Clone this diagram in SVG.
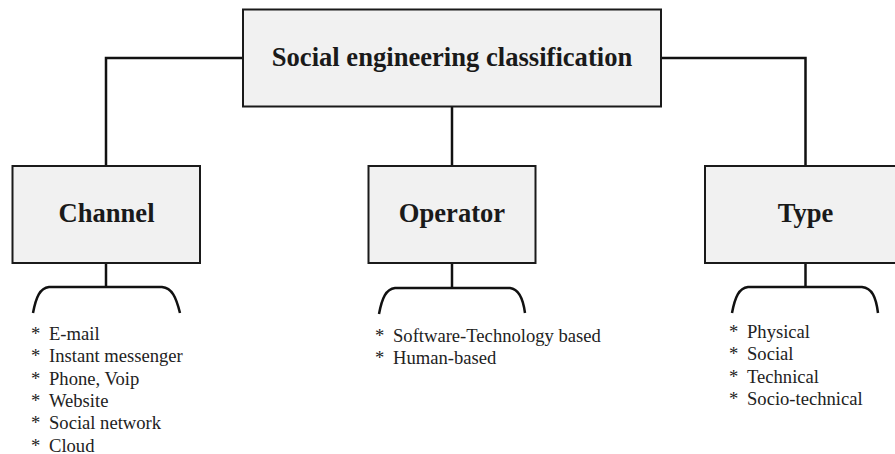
<svg xmlns="http://www.w3.org/2000/svg" width="895" height="454" viewBox="0 0 895 454">
<style>
.box{fill:#f1f1f1;stroke:#1a1a1a;stroke-width:2}
.title{font-family:"Liberation Serif","Times New Roman",serif;font-weight:bold;font-size:26.6px;fill:#1a1a1a;text-anchor:middle}
.item{font-family:"Liberation Serif","Times New Roman",serif;font-size:18.6px;fill:#222}
.conn{fill:none;stroke:#111;stroke-width:2.5;stroke-linejoin:miter}
</style>
<rect width="895" height="454" fill="#fff"/>
<g id="connectors">
<path class="conn" d="M243,58 H106 V166"/>
<path class="conn" d="M661,58 H805.5 V166"/>
<path class="conn" d="M452,107 V166"/>
<path class="conn" d="M106,263 V287"/>
<path class="conn" d="M452,263 V288"/>
<path class="conn" d="M805.5,263 V287"/>
</g>
<g id="root">
<rect class="box" x="243" y="9.5" width="418" height="97"/>
<text class="title" x="452" y="66">Social engineering classification</text>
</g>
<g id="channel">
<rect class="box" x="12.5" y="166" width="187.5" height="97"/>
<text class="title" x="106.5" y="222">Channel</text>
<path class="conn" d="M33,313 C36,297 40,288 49,287 L162,287 C172,288 176,297 180,313"/>
<text class="item" x="31" y="340">*</text><text class="item" x="49" y="340">E-mail</text>
<text class="item" x="31" y="362.3">*</text><text class="item" x="49" y="362.3">Instant messenger</text>
<text class="item" x="31" y="384.6">*</text><text class="item" x="49" y="384.6">Phone, Voip</text>
<text class="item" x="31" y="406.9">*</text><text class="item" x="49" y="406.9">Website</text>
<text class="item" x="31" y="429.2">*</text><text class="item" x="49" y="429.2">Social network</text>
<text class="item" x="31" y="451.5">*</text><text class="item" x="49" y="451.5">Cloud</text>
</g>
<g id="operator">
<rect class="box" x="368.5" y="166" width="167" height="97"/>
<text class="title" x="452" y="222">Operator</text>
<path class="conn" d="M379,314 C382,298 386,289 395,288 L510,288 C519,289 523,298 525,313"/>
<text class="item" x="375" y="341.5">*</text><text class="item" x="393" y="341.5">Software-Technology based</text>
<text class="item" x="375" y="363.5">*</text><text class="item" x="393" y="363.5">Human-based</text>
</g>
<g id="type">
<rect class="box" x="705" y="166" width="201" height="97"/>
<text class="title" x="805.5" y="222">Type</text>
<path class="conn" d="M732,313 C735,297 739,288 748,287 L862,287 C872,288 876,297 878,313"/>
<text class="item" x="729" y="337.5">*</text><text class="item" x="747" y="337.5">Physical</text>
<text class="item" x="729" y="360">*</text><text class="item" x="747" y="360">Social</text>
<text class="item" x="729" y="382.5">*</text><text class="item" x="747" y="382.5">Technical</text>
<text class="item" x="729" y="405">*</text><text class="item" x="747" y="405">Socio-technical</text>
</g>
</svg>
